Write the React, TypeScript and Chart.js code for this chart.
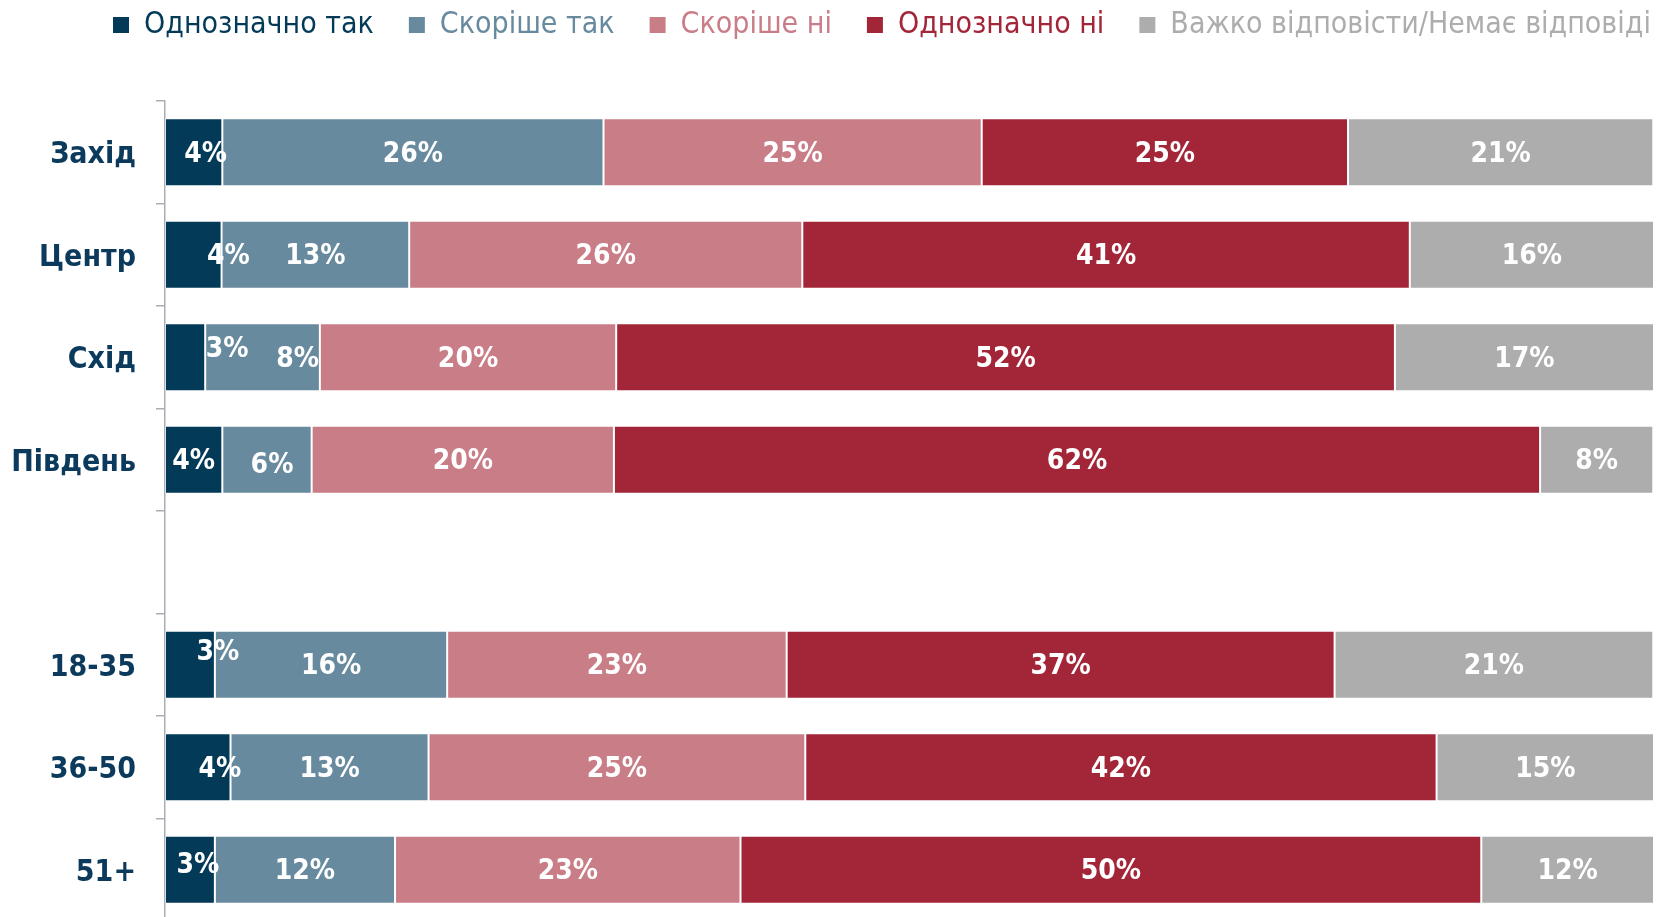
import React, { useEffect, useRef } from "react";
import { Chart, registerables } from "chart.js";

Chart.register(...registerables);

const categories = ["Захід", "Центр", "Схід", "Південь", "", "18-35", "36-50", "51+"];
const seriesNames = [
  "Однозначно так",
  "Скоріше так",
  "Скоріше ні",
  "Однозначно ні",
  "Важко відповісти/Немає відповіді",
];
const definitelyYes = [3.85, 3.8, 2.7, 3.85, null, 3.35, 4.4, 3.35];
const ratherYes = [25.6, 12.6, 7.7, 6.0, null, 15.6, 13.3, 12.1];
const ratherNo = [25.4, 26.4, 19.9, 20.3, null, 22.8, 25.3, 23.2];
const definitelyNo = [24.6, 40.8, 52.3, 62.2, null, 36.8, 42.4, 49.75];
const hardToSay = [20.5, 16.4, 17.4, 7.6, null, 21.4, 14.6, 11.6];

const seriesValues = [definitelyYes, ratherYes, ratherNo, definitelyNo, hardToSay];
const seriesColors = ["#033A58", "#678A9E", "#C97D87", "#A32638", "#ADADAE"];

// manual label nudges (px) as placed in the original: [series][row] -> [dx, dy]
const labelNudges: Record<string, [number, number]> = {
  "0-0": [12, 0],
  "0-1": [35, 0],
  "0-2": [42, -10],
  "0-5": [28, -14],
  "0-6": [22, 0],
  "0-7": [8, -6],
  "1-2": [35, 0],
  "1-3": [5, 4],
};

const FONT = "'DejaVu Sans Condensed', 'DejaVu Sans', sans-serif";

const barLabels = {
  id: "barLabels",
  afterDatasetsDraw(chart: any) {
    const ctx = chart.ctx;
    ctx.save();
    ctx.fillStyle = "#FFFFFF";
    ctx.font = `bold 28px ${FONT}`;
    ctx.textAlign = "center";
    ctx.textBaseline = "middle";
    chart.data.datasets.forEach((ds: any, di: number) => {
      const meta = chart.getDatasetMeta(di);
      meta.data.forEach((el: any, i: number) => {
        const v = ds.data[i];
        if (v === null || v === undefined) return;
        const nudge = labelNudges[`${di}-${i}`] || [0, 0];
        const cx = (el.x + el.base) / 2 + nudge[0];
        const cy = el.y + 2 + nudge[1];
        ctx.fillText(`${Math.round(v)}%`, cx, cy);
      });
    });
    ctx.restore();
  },
};

const legendShift = {
  id: "legendShift",
  beforeDraw(chart: any) {
    if (chart.legend) {
      chart.legend.left = 78;
      chart.legend.right = 4000;
    }
  },
};

export default function App() {
  const ref = useRef<HTMLCanvasElement | null>(null);

  useEffect(() => {
    if (!ref.current) return;
    const chart = new Chart(ref.current, {
      type: "bar",
      data: {
        labels: categories,
        datasets: seriesValues.map((vals, i) => ({
          label: seriesNames[i],
          data: vals,
          backgroundColor: seriesColors[i],
          borderColor: "rgba(255,255,255,0.25)",
          borderWidth: 1,
          borderSkipped: false,
          barPercentage: 0.663,
          categoryPercentage: 1,
        })),
      },
      options: {
        indexAxis: "y",
        animation: false,
        responsive: false,
        devicePixelRatio: 1,
        events: [],
        layout: { padding: { left: 0, right: 14, top: 0, bottom: 40 } },
        plugins: {
          tooltip: { enabled: false },
          title: {
            display: true,
            text: "",
            position: "top",
            weight: 100,
            font: { size: 10, lineHeight: 1 },
            padding: { top: 0, bottom: 41 },
          },
          legend: {
            display: true,
            position: "top",
            align: "start",
            labels: {
              boxWidth: 16,
              boxHeight: 16,
              padding: 35,
              font: { family: FONT, size: 30 },
              generateLabels: (c: any) => {
                const items = Chart.defaults.plugins.legend.labels.generateLabels(c);
                return items.map((it: any) => ({
                  ...it,
                  fontColor: seriesColors[it.datasetIndex],
                  fillStyle: seriesColors[it.datasetIndex],
                  lineWidth: 0,
                  strokeStyle: "rgba(0,0,0,0)",
                }));
              },
            },
          },
        },
        scales: {
          x: {
            stacked: true,
            min: 0,
            max: 100,
            display: false,
          },
          y: {
            stacked: true,
            grid: {
              display: true,
              drawOnChartArea: false,
              drawTicks: true,
              tickLength: 9,
              color: "#A9AEB5",
              lineWidth: 1.5,
              offset: true,
            },
            border: { display: true, color: "#A9AEB5", width: 1.5 },
            ticks: {
              color: "#0B3A5C",
              font: { family: FONT, size: 30, weight: "bold" },
              padding: 20,
              labelOffset: 3,
              autoSkip: false,
            },
            afterFit: (s: any) => {
              s.width = 165;
            },
          },
        },
      },
      plugins: [barLabels, legendShift],
    });
    return () => chart.destroy();
  }, []);

  return (
    <div
      style={{
        position: "fixed",
        left: 0,
        top: 0,
        width: 1668,
        height: 917,
        overflow: "hidden",
        background: "#FFFFFF",
      }}
    >
      <canvas
        ref={ref}
        width={1668}
        height={986}
        style={{ position: "absolute", left: 0, top: -25, width: 1668, height: 986 }}
      />
    </div>
  );
}
